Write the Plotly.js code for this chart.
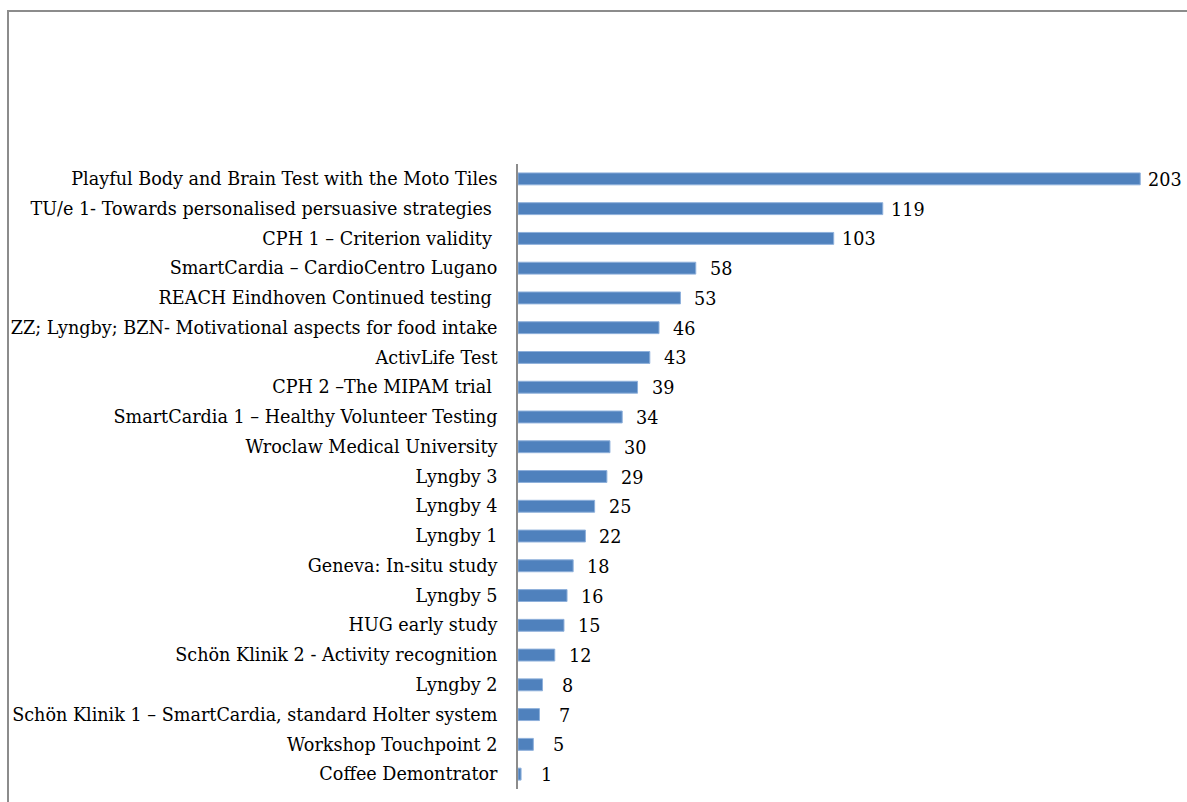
<!DOCTYPE html>
<html>
<head>
<meta charset="utf-8">
<script src="https://cdn.plot.ly/plotly-3.0.1.min.js"></script>
<style>
html,body{margin:0;padding:0;background:#fff;overflow:hidden;}
#frame{position:absolute;left:7px;top:10px;width:1200px;height:820px;border:2px solid #8c8c8c;box-sizing:border-box;pointer-events:none;z-index:5;}
#chart{position:absolute;left:0;top:0;width:1187px;height:802px;}
</style>
</head>
<body>
<div id="chart"></div>
<div id="frame"></div>
<script>
const categories = [
  "Playful Body and Brain Test with the Moto Tiles",
  "TU/e 1- Towards personalised persuasive strategies\u00a0",
  "CPH 1 – Criterion validity\u00a0",
  "SmartCardia – CardioCentro Lugano",
  "REACH Eindhoven Continued testing\u00a0",
  "ZZ; Lyngby; BZN- Motivational aspects for food intake",
  "ActivLife Test",
  "CPH 2 –The MIPAM trial\u00a0",
  "SmartCardia 1 – Healthy Volunteer Testing",
  "Wroclaw Medical University",
  "Lyngby 3",
  "Lyngby 4",
  "Lyngby 1",
  "Geneva: In-situ study",
  "Lyngby 5",
  "HUG early study",
  "Schön Klinik 2 - Activity recognition",
  "Lyngby 2",
  "Schön Klinik 1 – SmartCardia, standard Holter system",
  "Workshop Touchpoint 2",
  "Coffee Demontrator"
];
const values = [203, 119, 103, 58, 53, 46, 43, 39, 34, 30, 29, 25, 22, 18, 16, 15, 12, 8, 7, 5, 1];

const FONT = "DejaVu Serif, serif";
const FSIZE = 17.6;

const trace = {
  type: 'bar',
  orientation: 'h',
  x: values,
  y: categories,
  marker: {color: '#4f81bd', line: {color: '#8eb0db', width: 1}},
  width: 0.4,
  hoverinfo: 'x+y'
};

const annotations = values.map((v, i) => ({
  x: v, y: categories[i], xref: 'x', yref: 'y',
  text: String(v), showarrow: false, xanchor: 'center', xshift: 25, yshift: -1,
  font: {family: FONT, size: FSIZE, color: '#000'}
}));

const layout = {
  width: 1187, height: 802,
  margin: {l: 518, r: 10, t: 164, b: 13, pad: 0},
  paper_bgcolor: '#fff', plot_bgcolor: '#fff',
  showlegend: false,
  font: {family: FONT, size: FSIZE, color: '#000'},
  xaxis: {range: [0, 215], visible: false, showgrid: false, zeroline: false, fixedrange: true},
  yaxis: {
    type: 'category',
    range: [20.5, -0.5],
    showline: true, linecolor: '#8c8c8c', linewidth: 2,
    ticks: '', showgrid: false, zeroline: false,
    ticklabelstandoff: 15,
    tickfont: {family: FONT, size: FSIZE, color: '#000'},
    fixedrange: true
  },
  annotations: annotations
};

Plotly.newPlot('chart', [trace], layout, {displayModeBar: false, staticPlot: true});
</script>
</body>
</html>
